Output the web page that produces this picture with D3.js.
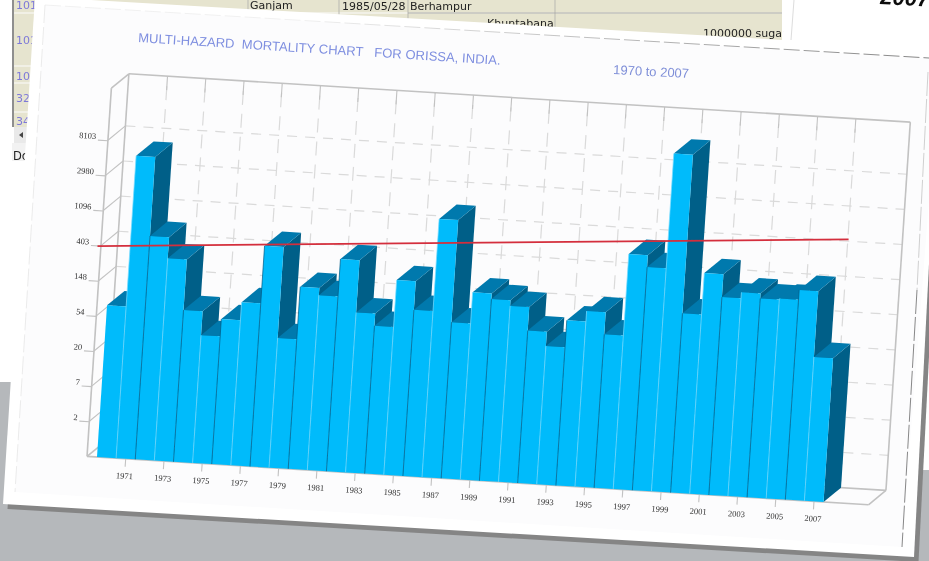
<!DOCTYPE html>
<html><head><meta charset="utf-8">
<style>html,body{margin:0;padding:0;background:#fff;overflow:hidden}svg{display:block}</style>
<script src="https://cdnjs.cloudflare.com/ajax/libs/d3/7.8.5/d3.min.js"></script>
</head><body><svg id="c" width="929" height="561"></svg>
<script>
const years = d3.range(1970, 2008);
const deaths = [75,5480,578,317,75,38,62,104,534,40,178,145,420,95,67,255,113,1556,85,206,176,150,77,51,110,148,79,804,572,15000,164,534,279,330,287,296,391,60];
const yTickLabels = [2,7,20,54,148,403,1096,2980,8103];
const yTickPowers = [1,2,3,4,5,6,7,8,9];
const xTickYears = d3.range(1971, 2008, 2);
const trendYears = [1969.3, 2008.4];
const trendValues = [395, 1790];
const titleText = "MULTI-HAZARD  MORTALITY CHART   FOR ORISSA, INDIA.";
const subtitleText = "1970 to 2007";
const tableIds = ["101","101","101","32","34"];
const tableIdBaselines = [9,44,80,102,125];

const svg = d3.select("#c");
const defs = svg.append("defs");
const blur = defs.append("filter").attr("id","soft").attr("filterUnits","userSpaceOnUse")
  .attr("x",0).attr("y",0).attr("width",929).attr("height",561);
blur.append("feGaussianBlur").attr("stdDeviation",0.55);
const grad = defs.append("linearGradient").attr("id","edge").attr("gradientUnits","userSpaceOnUse")
  .attr("x1",300).attr("y1",0).attr("x2",929).attr("y2",0);
grad.append("stop").attr("offset",0).attr("stop-color","#efefef");
grad.append("stop").attr("offset",1).attr("stop-color","#777");

const root = svg.append("g").attr("filter","url(#soft)");
const poly = (g,p,f)=>g.append("polygon").attr("points",p.map(d=>d.join(",")).join(" ")).attr("fill",f);
const ln = (g,a,b,s,w,dash)=>{const l=g.append("line").attr("x1",a[0]).attr("y1",a[1]).attr("x2",b[0]).attr("y2",b[1]).attr("stroke",s).attr("stroke-width",w);if(dash)l.attr("stroke-dasharray",dash);return l;};
const txt = (g,x,y,t,o={})=>g.append("text").attr("x",x).attr("y",y).attr("font-family",o.f||"DejaVu Sans").attr("font-size",o.s||11).attr("fill",o.c||"#222").attr("font-weight",o.w||null).attr("font-style",o.i||null).text(t);

/* ---------- desktop behind the printed sheet ---------- */
const bg = root.append("g");
poly(bg,[[0,382],[10,382],[925,465],[929,465],[929,561],[0,561]],"#b5b8bb");
ln(bg,[923,465],[929,465],"#8a8a8a",2);
bg.append("rect").attr("x",14).attr("y",0).attr("width",768).attr("height",127).attr("fill","#e6e4cf");
bg.append("rect").attr("x",12).attr("y",0).attr("width",2).attr("height",127).attr("fill","#8f8f8f");
[13,66,83,112].forEach(y=>ln(bg,[14,y],[782,y],"#f4f4ee",1.6));
[248,339,408,555].forEach(x=>ln(bg,[x,0],[x,50],"#b9b9b2",1));
ln(bg,[408,13],[782,13],"#a8a8a2",1);
tableIds.forEach((t,i)=>txt(bg,16,tableIdBaselines[i],t,{c:"#7d78d8",s:11}));
txt(bg,250,9,"Ganjam");txt(bg,342,10,"1985/05/28");txt(bg,410,10,"Berhampur");
txt(bg,487,27,"Khuntabana");txt(bg,703,37,"1000000 sugar");
bg.append("rect").attr("x",14).attr("y",127).attr("width",30).attr("height",16).attr("fill","#e9e9e9");
poly(bg,[[19,135],[23,132],[23,138]],"#444");
bg.append("rect").attr("x",12).attr("y",143).attr("width",30).attr("height",18).attr("fill","#f2f2f2");
txt(bg,13,160,"Done",{s:11.5});
poly(bg,[[784,-1],[929,-1],[929,470],[770,470]],"#ffffff");
ln(bg,[794,0],[791,40],"#dddddd",1);
txt(bg,880,4,"2007",{f:"Liberation Sans",s:22,w:"bold",i:"italic",c:"#111"}).attr("transform","rotate(3 880 4)");

/* ---------- printed sheet ---------- */
const sheet = [[35,-3.3],[940,49],[914,557],[3,504]];
poly(root,sheet.map(d=>[d[0]+4.5,d[1]+5]),"#858585");
poly(root,sheet,"#ffffff");
poly(root,[[45,5],[940,59],[902,547],[15,492]],"#fcfcfd");
ln(root,[45,5],[929,58],"url(#edge)",0.9,"16 4");
ln(root,[45,5],[15,492],"#e6e6e6",0.8,"18 4");
ln(root,[917,290],[902,547],"#555",0.7,"24 3");
ln(root,[928,72],[917,290],"#bbb",0.7,"24 3");

txt(root,138,42,titleText,{f:"Liberation Sans",s:13,c:"#7f8fe0"})
  .attr("transform","rotate(3.6 138 42)").attr("textLength",363).attr("lengthAdjust","spacing")
  .style("white-space","pre");
txt(root,613,74,subtitleText,{f:"Liberation Sans",s:13,c:"#7f8fd8"}).attr("transform","rotate(3 613 74)");

/* ---------- chart plane, tilted like the photographed sheet ---------- */
const plot = root.append("g").attr("transform","matrix(0.998,0.0618,-0.066,0.998,97,457)");
const barsW = 728, wallL = -10, wallR = 773, wallH = 369, depthX = 16.5, depthY = -15.4;
const logMax = 369/35.2;
const x = d3.scaleBand().domain(years).range([0,barsW]).padding(0);
const y = d3.scaleLog().base(Math.E).domain([1,Math.exp(logMax)]).range([0,-wallH]);
const xMid = d=>x(d)+x.bandwidth()/2;
const yearPos = d3.scaleLinear().domain([1970,2008]).range([0,barsW]);
const tickVals = yTickPowers.map(Math.exp);

const wallC = "#c2c2c2", gridC = "#dadada";
const grid = plot.append("g");
tickVals.forEach(v=>{
  const yy=y(v);
  ln(grid,[wallL+depthX,yy+depthY],[wallR+depthX,yy+depthY],gridC,1.2,"10 8");
  ln(grid,[wallL,yy],[wallL+depthX,yy+depthY],wallC,1.1);
});
xTickYears.forEach(d=>{
  ln(grid,[xMid(d)+depthX,depthY],[xMid(d)+depthX,-wallH+depthY],gridC,1.2,"14 9");
  ln(grid,[xMid(d)+depthX,-wallH+depthY],[xMid(d)+depthX,-wallH+depthY+14],wallC,1.1);
});
const frame=[
 [[wallL,0],[wallL,-wallH]],[[wallL,-wallH],[wallL+depthX,-wallH+depthY]],
 [[wallL+depthX,-wallH+depthY],[wallL+depthX,depthY]],
 [[wallL+depthX,-wallH+depthY],[wallR+depthX,-wallH+depthY]],
 [[wallR+depthX,-wallH+depthY],[wallR+depthX,depthY]],
 [[wallL+depthX,depthY],[wallR+depthX,depthY]],
 [[wallL,0],[wallR,0]],[[wallL,0],[wallL+depthX,depthY]],[[wallR,0],[wallR+depthX,depthY]]];
frame.forEach(([a,b])=>ln(grid,a,b,wallC,1.6));

const yAxis = plot.append("g").attr("transform",`translate(${wallL},0)`)
  .call(d3.axisLeft(y).tickValues(tickVals).tickSize(10).tickPadding(2).tickFormat((d,i)=>yTickLabels[i]));
yAxis.select(".domain").remove();
yAxis.selectAll("line").attr("stroke",wallC).attr("stroke-width",1.1);
yAxis.selectAll("text").attr("font-family","Liberation Serif").attr("font-size",8.5).attr("fill","#333").attr("dy","-0.1em");
const xAxis = plot.append("g")
  .call(d3.axisBottom(x).tickValues(xTickYears).tickSize(8).tickPadding(6));
xAxis.select(".domain").remove();
xAxis.selectAll("line").attr("stroke",wallC).attr("stroke-width",1.1);
xAxis.selectAll("text").attr("font-family","Liberation Serif").attr("font-size",8.5).attr("fill","#333");

const rows = years.map((yr,i)=>({yr,i,v:deaths[i]}));
const bar = plot.append("g").selectAll("g").data(rows).join("g");
const w = x.bandwidth();
bar.append("polygon").attr("fill","#005f88").attr("points",d=>{const X=x(d.yr)+w,Y=y(d.v);return [[X,Y],[X+depthX,Y+depthY],[X+depthX,depthY],[X,0]].join(" ");});
bar.append("polygon").attr("fill","#0079ad").attr("points",d=>{const X=x(d.yr),Y=y(d.v);return [[X,Y],[X+depthX,Y+depthY],[X+w+depthX,Y+depthY],[X+w,Y]].join(" ");});
bar.append("rect").attr("x",d=>x(d.yr)).attr("width",w).attr("y",d=>y(d.v)).attr("height",d=>-y(d.v)).attr("fill","#00bbfb");
bar.filter(d=>d.i>0).append("line").attr("x1",d=>x(d.yr)).attr("x2",d=>x(d.yr)).attr("y1",d=>y(d.v)).attr("y2",0)
  .attr("stroke",d=>d.i%2===0?"#005a86":"#7adcff").attr("stroke-width",0.7);

const trend = d3.line().x(d=>yearPos(d[0])).y(d=>y(d[1]));
plot.append("path").datum(trendYears.map((d,i)=>[d,trendValues[i]])).attr("d",trend)
  .attr("fill","none").attr("stroke","#d42f3c").attr("stroke-width",1.8);
</script></body></html>
